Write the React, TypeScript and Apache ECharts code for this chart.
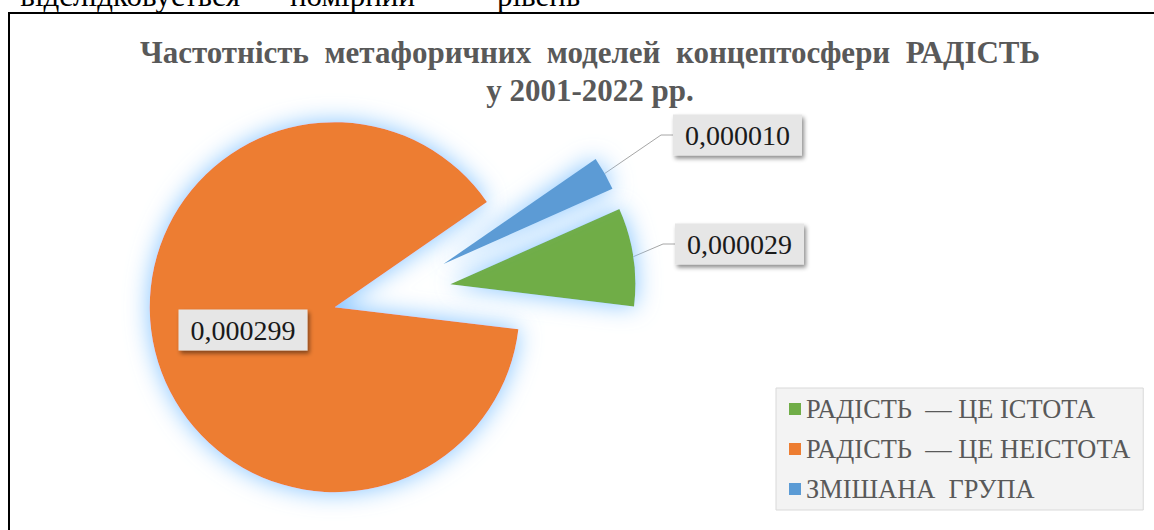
import { useEffect, useRef } from 'react';
import * as echarts from 'echarts';

const categories = ['РАДІСТЬ  — ЦЕ ІСТОТА', 'РАДІСТЬ  — ЦЕ НЕІСТОТА', 'ЗМІШАНА  ГРУПА'];
const values = [0.000029, 0.000299, 0.00001];
const colors = ['#70ad47', '#ed7d31', '#5b9bd5'];
const titleLines = ['Частотність  метафоричних  моделей  концептосфери  РАДІСТЬ', 'у 2001-2022 рр.'];
const headerWords = ['відслідковується', 'помірний', 'рівень'];

const SERIF = 'Liberation Serif';

export default function App() {
  const ref = useRef<HTMLDivElement>(null);
  useEffect(() => {
    if (!ref.current) return;
    const chart = echarts.init(ref.current, undefined, { renderer: 'svg' });
    const fmt = (v: number) => v.toFixed(6).replace('.', ',');

    const CX = 392;
    const CY = 293;
    const R = 185;
    const START = 24;
    const EXPLODE = 59;
    const total = values.reduce((a, b) => a + b, 0);

    const labelBox = {
      fontFamily: SERIF,
      fontSize: 28,
      color: '#1a1a1a',
      backgroundColor: '#e6e6e6',
      padding: [7, 12, 6, 12],
      shadowColor: 'rgba(0,0,0,0.45)',
      shadowBlur: 4,
      shadowOffsetX: 2,
      shadowOffsetY: 3,
    };
    const glow = {
      shadowBlur: 24,
      shadowColor: 'rgba(130,195,255,1)',
      shadowOffsetX: 0,
      shadowOffsetY: 0,
      borderWidth: 0,
    };
    const labelPos: Record<number, { x: number; y: number }> = {
      0: { x: 675, y: 244 },
      2: { x: 673, y: 135 },
    };

    let cum = 0;
    const series = values.map((v, k) => {
      const mid = ((START - (360 * (cum + v / 2)) / total) * Math.PI) / 180;
      cum += v;
      const center = [CX + EXPLODE * Math.cos(mid), CY - EXPLODE * Math.sin(mid)];
      return {
        type: 'pie',
        silent: true,
        center,
        radius: R,
        startAngle: START,
        clockwise: true,
        avoidLabelOverlap: false,
        emphasis: { disabled: true },
        labelLine: { show: false },
        labelLayout: (p: any) => {
          if (p.dataIndex !== k) return {};
          const pos = labelPos[p.dataIndex];
          if (pos) return { x: pos.x, y: pos.y, align: 'left', verticalAlign: 'middle' };
          return { dx: 1 };
        },
        data: categories.map((name, i) =>
          i === k
            ? {
                name,
                value: values[i],
                itemStyle: { color: colors[i], ...glow },
                label: {
                  show: true,
                  position: i === 1 ? 'inside' : 'outside',
                  formatter: (p: any) => fmt(p.value),
                  ...labelBox,
                },
                labelLine: {
                  show: i !== 1,
                  length: 15,
                  length2: 12,
                  smooth: false,
                  lineStyle: { color: '#a6a6a6', width: 1 },
                },
              }
            : {
                name,
                value: values[i],
                itemStyle: { color: 'rgba(0,0,0,0)', shadowBlur: 0, borderWidth: 0 },
                label: { show: false },
                labelLine: { show: false },
              }
        ),
      };
    });

    chart.setOption({
      animation: false,
      backgroundColor: '#ffffff',
      graphic: [
        {
          type: 'rect',
          z: -10,
          shape: { x: 9, y: 13, width: 1200, height: 600 },
          style: { fill: 'none', stroke: '#000', lineWidth: 2 },
        },
        ...headerWords.map((w, i) => ({
          type: 'text',
          x: [240, 290, 497][i],
          y: -5,
          style: {
            text: w,
            fontFamily: SERIF,
            fontSize: 31,
            fill: '#000',
            align: i === 0 ? 'right' : 'left',
            verticalAlign: 'middle',
          },
        })),
        ...titleLines.map((t, i) => ({
          type: 'text',
          x: 590,
          y: [52, 90][i],
          style: {
            text: t,
            fontFamily: SERIF,
            fontWeight: 'bold',
            fontSize: 31,
            fill: '#595959',
            align: 'center',
            verticalAlign: 'middle',
          },
        })),
      ],
      legend: {
        orient: 'vertical',
        left: 776,
        top: 388,
        data: categories.map((name, i) => ({ name, itemStyle: { color: colors[i] } })),
        icon: 'rect',
        itemWidth: 12,
        itemHeight: 12,
        itemGap: 12,
        selectedMode: false,
        backgroundColor: '#f3f3f3',
        borderColor: '#d9d9d9',
        borderWidth: 1,
        padding: [7, 13, 7, 13],
        textStyle: { fontFamily: SERIF, fontSize: 26.4, color: '#595959', lineHeight: 28 },
      },
      series,
    });
    return () => chart.dispose();
  }, []);
  return <div ref={ref} style={{ position: 'absolute', left: 0, top: 0, width: 1154, height: 530 }} />;
}
